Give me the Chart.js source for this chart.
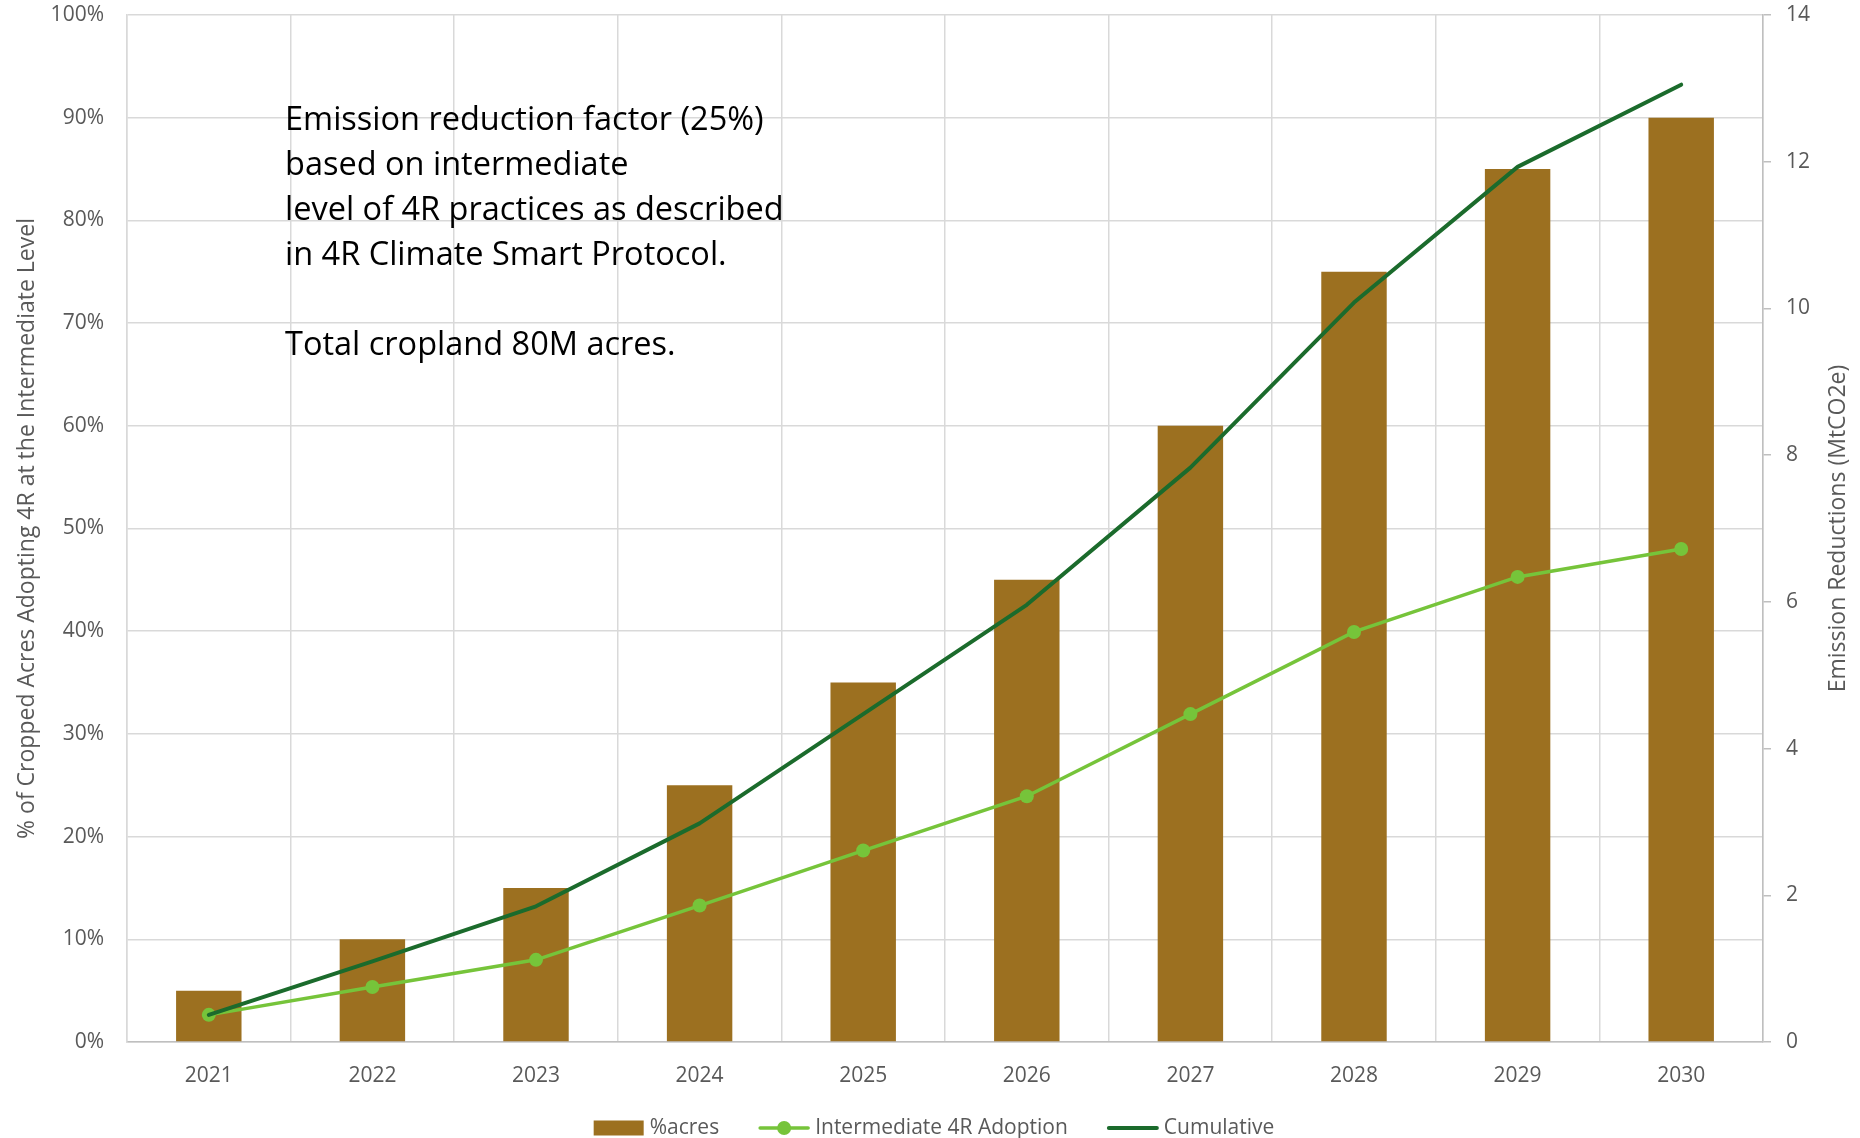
<!DOCTYPE html>
<html>
<head>
<meta charset="utf-8">
<title>4R Adoption and Emission Reductions</title>
<script src="https://cdn.jsdelivr.net/npm/chart.js@4.4.1/dist/chart.umd.min.js"></script>
<style>
  html, body { margin: 0; padding: 0; background: #ffffff; }
  #wrap { width: 1860px; height: 1138px; }
</style>
</head>
<body>
<div id="wrap"><canvas id="chart" width="1860" height="1138"></canvas></div>
<script>
// Years on the category axis
const years = ['2021', '2022', '2023', '2024', '2025', '2026', '2027', '2028', '2029', '2030'];
// Share of cropped acres adopting 4R at the intermediate level (%)
const acresPct = [5, 10, 15, 25, 35, 45, 60, 75, 85, 90];
// Annual emission reductions from intermediate 4R adoption (MtCO2e)
const intermediate = [0.37, 0.75, 1.12, 1.86, 2.61, 3.35, 4.47, 5.59, 6.34, 6.72];
// Cumulative emission reductions (MtCO2e)
const cumulative = [0.37, 1.10, 1.85, 2.98, 4.47, 5.96, 7.83, 10.08, 11.93, 13.05];
// Series names shown in the legend
const seriesNames = ['%acres', 'Intermediate 4R Adoption', 'Cumulative'];
// Axis titles
const leftTitle = '% of Cropped Acres Adopting 4R at the Intermediate Level';
const rightTitle = 'Emission Reductions (MtCO2e)';
// Note placed inside the plot
const noteLines = [
  'Emission reduction factor (25%)',
  'based on intermediate',
  'level of 4R practices as described',
  'in 4R Climate Smart Protocol.',
  '',
  'Total cropland 80M acres.'
];

const FONT = '"Open Sans", "Liberation Sans", sans-serif';
const BROWN = '#9C7020';
const LIGHT = '#76C43A';
const DARK = '#1B6B2C';
const TEXT = '#595959';
const GRID = '#d9d9d9';
const AXIS = '#bfbfbf';

// Draws the right-hand axis title reading bottom to top
const rightTitlePlugin = {
  id: 'rightTitle',
  afterDraw(chart) {
    const { ctx, chartArea } = chart;
    ctx.save();
    ctx.font = '23px ' + FONT;
    ctx.fillStyle = TEXT;
    ctx.textAlign = 'center';
    ctx.textBaseline = 'middle';
    ctx.translate(1838, (chartArea.top + chartArea.bottom) / 2);
    ctx.rotate(-Math.PI / 2);
    ctx.fillText(rightTitle, 0, 0);
    ctx.restore();
  }
};

// Multi-line note in the upper left of the plot
const notePlugin = {
  id: 'note',
  afterDraw(chart) {
    const { ctx } = chart;
    ctx.save();
    ctx.font = '32.5px ' + FONT;
    ctx.fillStyle = '#000000';
    ctx.textAlign = 'left';
    ctx.textBaseline = 'alphabetic';
    noteLines.forEach((line, i) => {
      if (line) ctx.fillText(line, 285, 130 + i * 45);
    });
    ctx.restore();
  }
};

// Legend row under the category axis
const legendPlugin = {
  id: 'bottomLegend',
  afterDraw(chart) {
    const { ctx } = chart;
    const iconW = 50, gap = 6, spacing = 40, cy = 1128;
    ctx.save();
    ctx.font = '21px ' + FONT;
    ctx.textBaseline = 'middle';
    ctx.textAlign = 'left';
    const widths = seriesNames.map(t => ctx.measureText(t).width);
    const total = widths.reduce((a, w) => a + iconW + gap + w, 0) + spacing * (seriesNames.length - 1);
    let x = chart.width / 2 - total / 2 + 4;
    seriesNames.forEach((name, i) => {
      if (i === 0) {
        ctx.fillStyle = BROWN;
        ctx.fillRect(x, cy - 7.5, iconW, 15);
      } else {
        const col = i === 1 ? LIGHT : DARK;
        ctx.strokeStyle = col;
        ctx.lineWidth = i === 1 ? 3.5 : 4;
        ctx.lineCap = 'round';
        ctx.beginPath();
        ctx.moveTo(x + 1, cy);
        ctx.lineTo(x + iconW - 1, cy);
        ctx.stroke();
        if (i === 1) {
          ctx.fillStyle = col;
          ctx.beginPath();
          ctx.arc(x + iconW / 2, cy, 7, 0, Math.PI * 2);
          ctx.fill();
        }
      }
      ctx.fillStyle = TEXT;
      ctx.fillText(name, x + iconW + gap, cy);
      x += iconW + gap + widths[i] + spacing;
    });
    ctx.restore();
  }
};

const tickFont = { family: FONT, size: 21 };

// Fixed axis sizes; the vertical axes must not push the plot top down
function fitVertical(width) {
  return s => {
    s.width = width;
    s.paddingTop = 15;
    s.paddingBottom = 0;
  };
}

new Chart(document.getElementById('chart'), {
  type: 'bar',
  data: {
    labels: years,
    datasets: [
      {
        type: 'line',
        label: seriesNames[2],
        data: cumulative,
        yAxisID: 'y1',
        borderColor: DARK,
        backgroundColor: DARK,
        borderWidth: 4,
        borderCapStyle: 'round',
        borderJoinStyle: 'round',
        pointRadius: 0,
        tension: 0,
        order: 0
      },
      {
        type: 'line',
        label: seriesNames[1],
        data: intermediate,
        yAxisID: 'y1',
        borderColor: LIGHT,
        backgroundColor: LIGHT,
        borderWidth: 3.5,
        pointRadius: 7,
        pointBorderWidth: 0,
        pointBackgroundColor: LIGHT,
        tension: 0,
        order: 1
      },
      {
        type: 'bar',
        label: seriesNames[0],
        data: acresPct,
        yAxisID: 'y',
        backgroundColor: BROWN,
        barPercentage: 0.4,
        categoryPercentage: 1,
        order: 2
      }
    ]
  },
  options: {
    responsive: false,
    animation: false,
    layout: { padding: { top: 0, left: 0, right: 0, bottom: 0 } },
    plugins: {
      legend: { display: false },
      tooltip: { enabled: false }
    },
    scales: {
      x: {
        grid: { color: GRID, lineWidth: 1.5, drawTicks: false, offset: true },
        border: { color: AXIS, width: 1.5 },
        ticks: { color: TEXT, font: tickFont, padding: 21, maxRotation: 0 },
        afterFit: s => { s.height = 96; }
      },
      y: {
        position: 'left',
        min: 0,
        max: 100,
        ticks: { stepSize: 10, color: TEXT, font: tickFont, padding: 23, callback: v => v + '%' },
        grid: { color: GRID, lineWidth: 1.5, drawTicks: false },
        border: { color: GRID, width: 1.5 },
        title: { display: true, text: leftTitle, color: TEXT, font: { family: FONT, size: 23 }, padding: { top: 14, bottom: 0 } },
        afterFit: fitVertical(127)
      },
      y1: {
        position: 'right',
        min: 0,
        max: 14,
        ticks: { stepSize: 2, color: TEXT, font: tickFont, padding: 15 },
        grid: { drawOnChartArea: false, color: AXIS, lineWidth: 1.5, tickLength: 8 },
        border: { color: AXIS, width: 1.5 },
        afterFit: fitVertical(97)
      }
    }
  },
  plugins: [notePlugin, rightTitlePlugin, legendPlugin]
});
</script>
</body>
</html>
